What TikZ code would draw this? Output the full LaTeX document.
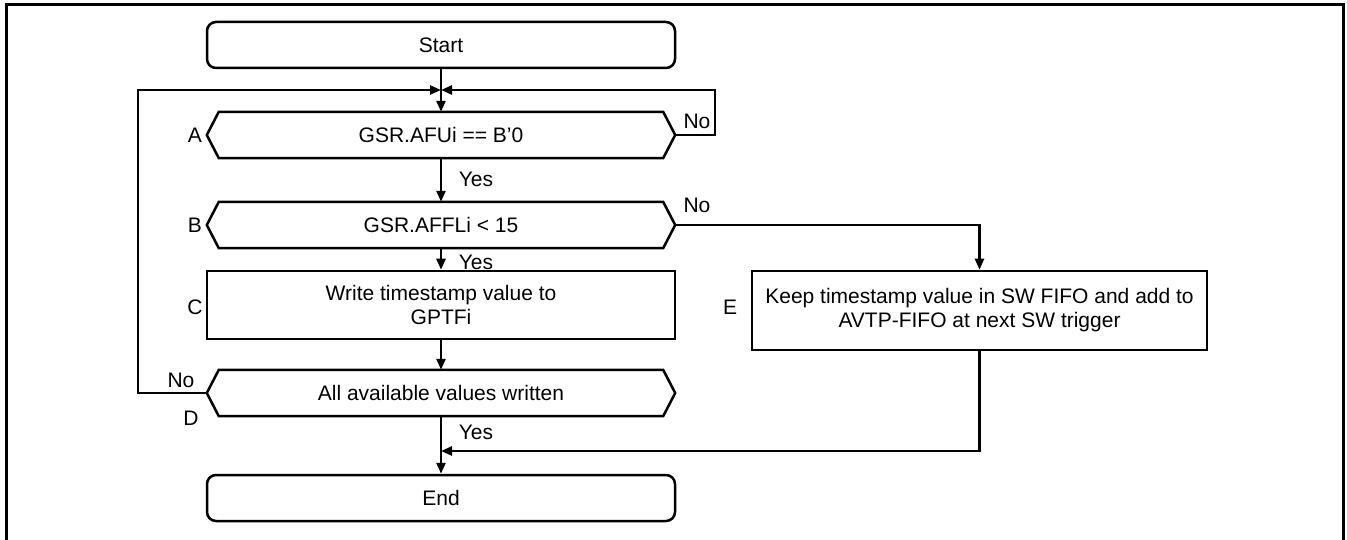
\documentclass[tikz,border=0pt]{standalone}
\usepackage{fontspec}
\setmainfont{Liberation Sans}
\usetikzlibrary{arrows.meta}
\begin{document}
\begin{tikzpicture}[x=1pt,y=-1pt,
  every node/.style={font=\fontsize{21}{24}\selectfont, inner sep=0pt},
  flowline/.style={line width=2.5pt},
  arr/.style={flowline,-{Triangle[length=11pt,width=9pt]}},
  termbox/.style={draw, line width=2.5pt, rounded corners=9pt, minimum width=468pt, minimum height=46pt},
  procbox/.style={draw, line width=2.5pt, minimum width=468pt, minimum height=68pt, align=center},
  ebox/.style={draw, line width=2.5pt, minimum width=455pt, minimum height=79pt, align=center},
  hexbox/.style={minimum width=468pt, minimum height=46pt},
  hexline/.style={line width=2.5pt, line join=miter},
  lbl/.style={anchor=center}
]
\useasboundingbox (0,0) rectangle (1347,540);
\begin{scope}
\clip (0,0) rectangle (1347,540);
\draw[line width=3pt] (6,560) -- (6,5) -- (1343,5) -- (1343,560);
\end{scope}

\node[termbox] (start) at (441,45) {Start};
\node[hexbox] (A) at (441,135) {GSR.AFUi == B'0};
\node[hexbox] (B) at (441,225) {GSR.AFFLi < 15};
\node[procbox] (C) at (441,305) {Write timestamp value to\\GPTFi};
\node[hexbox] (D) at (441,393) {All available values written};
\node[termbox] (end) at (441,498) {End};
\node[ebox] (E) at (979.5,310.5) {Keep timestamp value in SW FIFO and add to\\AVTP-FIFO at next SW trigger};

\foreach \h in {A,B,D}{
  \draw[hexline] (\h.west) -- ([xshift=12pt]\h.north west) -- ([xshift=-12pt]\h.north east) -- (\h.east) -- ([xshift=-12pt]\h.south east) -- ([xshift=12pt]\h.south west) -- cycle;
}

\node[lbl] (la) at (195,135) {A};
\node[lbl] (lb) at (195,225) {B};
\node[lbl] (lc) at (195,307) {C};
\node[lbl] (ld) at (191,418) {D};
\node[lbl] (le) at (730,307) {E};

\coordinate (m) at (441,90);
\coordinate (rA) at (715,135);
\coordinate (rT) at (715,90);
\coordinate (lD) at (138,393);
\coordinate (lT) at (138,90);
\coordinate (bE) at (979.5,225);
\coordinate (eB) at (979.5,451);
\coordinate (j) at (441,451);

\draw[flowline] (start.south) -- (m);
\draw[arr] (m) -- (A.north);
\draw[arr] (A.east) -- (rA) -- (rT) -- (m);
\draw[arr] (D.west) -- (lD) -- (lT) -- (m);
\draw[arr] (A.south) -- (B.north);
\draw[arr] (B.south) -- (C.north);
\draw[arr] (C.south) -- (D.north);
\draw[arr] (D.south) -- (end.north);
\draw[arr] (B.east) -- (bE) -- (E.north);
\draw[arr] (E.south) -- (eB) -- (j);

\node[lbl] (noA) at (697,121) {No};
\node[lbl] (noB) at (697,205) {No};
\node[lbl] (noD) at (181,380) {No};
\node[lbl] (yesA) at (476,179) {Yes};
\node[lbl] (yesB) at (476,262) {Yes};
\node[lbl] (yesD) at (476,432) {Yes};
\end{tikzpicture}
\end{document}
